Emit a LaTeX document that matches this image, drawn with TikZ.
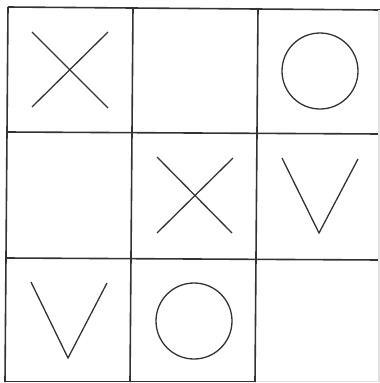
\documentclass[tikz,border=0pt]{standalone}
\begin{document}
\begin{tikzpicture}[x=1pt,y=-1pt,
  gridline/.style={draw=black!80,line width=1.6pt},
  faintline/.style={draw=black!12,line width=1.2pt},
  glyph/.style={draw=black!80,line width=1.3pt}]
\useasboundingbox[fill=white] (0,0) rectangle (380,383);
% grid
\draw[gridline] (8,7) -- (380,10);
\draw[gridline] (7,132) -- (380,134);
\draw[gridline] (6,258) -- (380,260);
\draw[gridline] (5,381.5) -- (256,381.5);
\draw[faintline] (256,381.5) -- (380,381.5);
\draw[gridline] (8,7) -- (5,382);
\draw[gridline] (133,7) -- (130,382);
\draw[gridline] (258,8) -- (255,382);
\draw[faintline] (379,10) -- (379,382);
% row 1
\draw[glyph] (32,32) -- (108,108) (108,32) -- (32,107);
\draw[glyph] (320,71) circle[radius=38];
% row 2
\draw[glyph] (157,157) -- (232,233) (233,158) -- (157,233);
\draw[glyph] (282,158) -- (319,233) -- (358,159);
% row 3
\draw[glyph] (31,282) -- (68,358) -- (107,283);
\draw[glyph] (194,321) circle[radius=38];
\end{tikzpicture}
\end{document}
